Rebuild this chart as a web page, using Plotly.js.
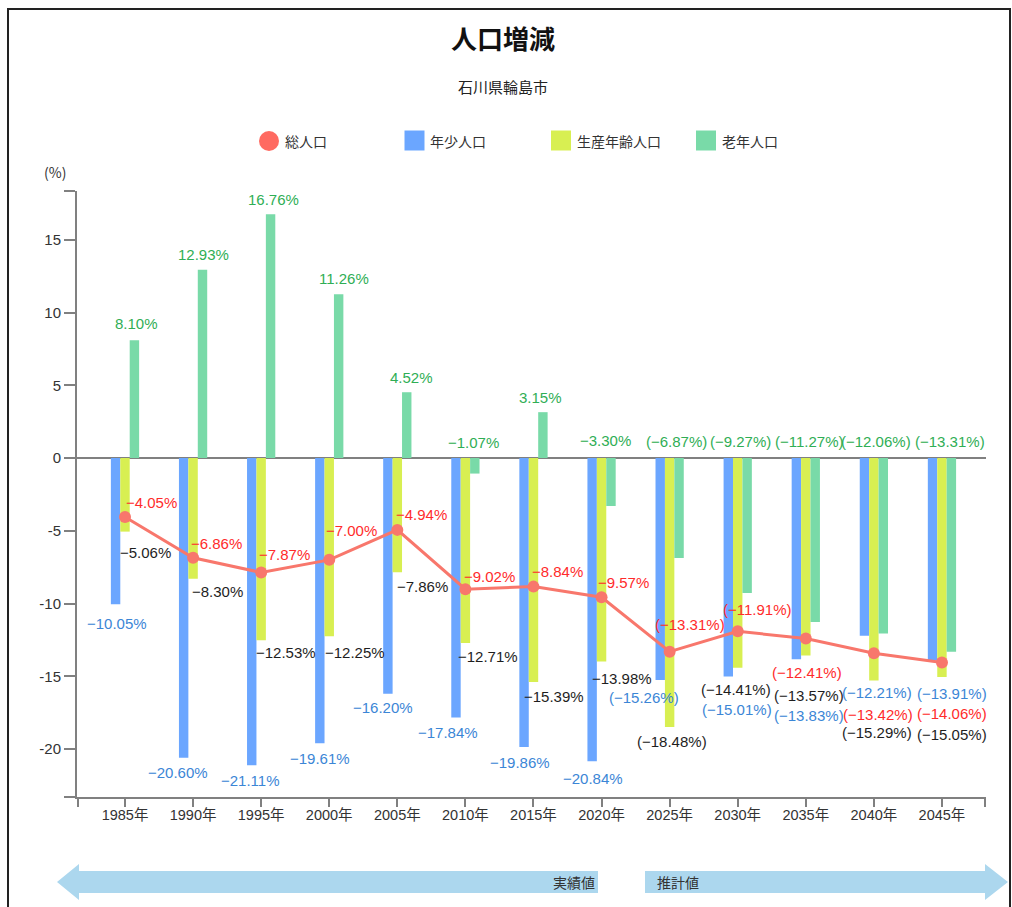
<!DOCTYPE html>
<html>
<head>
<meta charset="utf-8">
<script src="https://cdn.plot.ly/plotly-3.0.1.min.js"></script>
<style>
  html, body { margin: 0; padding: 0; background: #fff; }
  #chart { width: 1012px; height: 907px; }
</style>
</head>
<body>
<div id="chart"></div>
<script>
// ---------------- data ----------------
const years = ['1985年','1990年','1995年','2000年','2005年','2010年','2015年','2020年','2025年','2030年','2035年','2040年','2045年'];
const total   = [-4.05, -6.86, -7.87, -7.00, -4.94, -9.02, -8.84, -9.57, -13.31, -11.91, -12.41, -13.42, -14.06];
const young   = [-10.05, -20.60, -21.11, -19.61, -16.20, -17.84, -19.86, -20.84, -15.26, -15.01, -13.83, -12.21, -13.91];
const working = [-5.06, -8.30, -12.53, -12.25, -7.86, -12.71, -15.39, -13.98, -18.48, -14.41, -13.57, -15.29, -15.05];
const elderly = [8.10, 12.93, 16.76, 11.26, 4.52, -1.07, 3.15, -3.30, -6.87, -9.27, -11.27, -12.06, -13.31];
const firstEstimate = 8; // 2025年 onward are estimates
const seriesNames = ['総人口', '年少人口', '生産年齢人口', '老年人口'];
const yTickVals = [-20, -15, -10, -5, 0, 5, 10, 15];

// ---------------- styles / label placement (pixels: [dx, dy], dy down) ----------------
const C = {
  line: '#f8776c', legendDot: '#ff6a61',
  blue: '#6ba6ff', yellow: '#d8ef52', green: '#79daa8',
  redText: '#ff2b2b', blueText: '#3b86d6', blackText: '#1e1e1e', greenText: '#2fae55',
  axis: '#808080', arrow: '#acd7ee'
};
const totalOff   = [[26,-14],[23,-14],[23.5,-18.5],[22,-29],[24,-15],[24,-13],[24.5,-15],[22,-15],[20.5,-27],[19.5,-22],[1.5,34],[4.5,61],[10.5,51]];
const workingOff = [[20.5,21],[24,13],[24.5,12],[25.5,16],[25,14],[22.5,14],[20.5,15],[20,17],[2.5,15],[-1.5,22],[3.5,40],[3.5,52],[10.5,58]];
const youngOff   = [[-8,19],[-15.5,15],[-11,15],[-9.5,15],[-14.5,14],[-17,15],[-13,16],[-9,17],[-26,17],[-1,33],[3.5,56],[3.5,57],[10.5,33]];
const elderlyOff = [[11,-17],[10.5,-15],[12.5,-15],[15,-16],[14,-15],[8,-16],[7.5,-15],[4,-18],[7,-17],[3,-17],[3.5,-17],[2,-17],[8.5,-17]];

// plot area in page pixels
const PL = 77, PR = 986, PT = 191, PB = 797;
const W = 1012, H = 907;
const px = x => (x - PL) / (PR - PL);
const py = y => (PB - y) / (PB - PT);

const idx = years.map((_, i) => i);
const fmt = (v, i) => {
  const s = (v < 0 ? '\u2212' : '') + Math.abs(v).toFixed(2) + '%';
  return i >= firstEstimate ? '(' + s + ')' : s;
};

// ---------------- traces ----------------
const barBase = { type: 'bar', x: idx, hoverinfo: 'skip', showlegend: false };
const traces = [
  Object.assign({}, barBase, { name: seriesNames[1], y: young,   marker: { color: C.blue } }),
  Object.assign({}, barBase, { name: seriesNames[2], y: working, marker: { color: C.yellow } }),
  Object.assign({}, barBase, { name: seriesNames[3], y: elderly, marker: { color: C.green } }),
  { type: 'scatter', mode: 'lines+markers', name: seriesNames[0], x: idx, y: total,
    line: { color: C.line, width: 3 }, marker: { color: C.line, size: 12 },
    hoverinfo: 'skip', showlegend: false }
];

// ---------------- annotations ----------------
const labelFont = (color) => ({ family: 'Liberation Sans, Arial, "Noto Sans CJK JP", sans-serif', size: 15, color });
const annotations = [];
function addLabels(values, offs, color, anchorFn) {
  values.forEach((v, i) => {
    annotations.push({
      x: i, y: anchorFn ? anchorFn(v) : v, xref: 'x', yref: 'y',
      text: fmt(v, i), showarrow: false, xanchor: 'center', yanchor: 'middle',
      xshift: offs[i][0], yshift: -offs[i][1], font: labelFont(color)
    });
  });
}
addLabels(young, youngOff, C.blueText);
addLabels(working, workingOff, C.blackText);
addLabels(elderly, elderlyOff, C.greenText, v => Math.max(v, 0));
addLabels(total, totalOff, C.redText);

const cjk = '"Noto Sans CJK JP", sans-serif';
// subtitle
annotations.push({ xref: 'paper', yref: 'paper', x: px(503), y: py(87), text: '石川県輪島市', showarrow: false,
  xanchor: 'center', yanchor: 'middle', font: { family: cjk, size: 15, color: '#222' } });
// unit
annotations.push({ xref: 'paper', yref: 'paper', x: px(55), y: py(172), text: '(%)', showarrow: false,
  xanchor: 'center', yanchor: 'middle', font: { family: cjk, size: 14, color: '#333' } });

// manual legend
const legendItems = [
  { name: seriesNames[0], color: C.legendDot, shape: 'circle', cx: 269, tx: 283 },
  { name: seriesNames[1], color: C.blue,   shape: 'rect', cx: 414.5, tx: 428 },
  { name: seriesNames[2], color: C.yellow, shape: 'rect', cx: 561,   tx: 575 },
  { name: seriesNames[3], color: C.green,  shape: 'rect', cx: 706,   tx: 720 }
];
const shapes = [];
legendItems.forEach(it => {
  if (it.shape === 'circle') {
    shapes.push({ type: 'circle', xref: 'paper', yref: 'paper', x0: px(it.cx - 10), x1: px(it.cx + 10),
      y0: py(151), y1: py(131), fillcolor: it.color, line: { width: 0 } });
  } else {
    shapes.push({ type: 'rect', xref: 'paper', yref: 'paper', x0: px(it.cx - 10), x1: px(it.cx + 10),
      y0: py(150.5), y1: py(130.5), fillcolor: it.color, line: { width: 0 } });
  }
  annotations.push({ xref: 'paper', yref: 'paper', x: px(it.tx), y: py(141), text: it.name, showarrow: false,
    xanchor: 'left', yanchor: 'middle', font: { family: cjk, size: 14, color: '#333' } });
});

// arrows (実績値 / 推計値)
const P = (x, y) => px(x).toFixed(5) + ',' + py(y).toFixed(5);
shapes.push({ type: 'path', xref: 'paper', yref: 'paper', fillcolor: C.arrow, line: { width: 0 },
  path: 'M' + P(57, 882) + 'L' + P(79, 864) + 'L' + P(79, 871) + 'L' + P(598, 871) + 'L' + P(598, 893) +
        'L' + P(79, 893) + 'L' + P(79, 900) + 'Z' });
shapes.push({ type: 'path', xref: 'paper', yref: 'paper', fillcolor: C.arrow, line: { width: 0 },
  path: 'M' + P(645, 871) + 'L' + P(985, 871) + 'L' + P(985, 864) + 'L' + P(1008, 882) + 'L' + P(985, 900) +
        'L' + P(985, 893) + 'L' + P(645, 893) + 'Z' });
annotations.push({ xref: 'paper', yref: 'paper', x: px(597), y: py(882), text: '実績値', showarrow: false,
  xanchor: 'right', yanchor: 'middle', font: { family: cjk, size: 14, color: '#333' } });
annotations.push({ xref: 'paper', yref: 'paper', x: px(655), y: py(882), text: '推計値', showarrow: false,
  xanchor: 'left', yanchor: 'middle', font: { family: cjk, size: 14, color: '#333' } });

// outer frame
shapes.push({ type: 'rect', xref: 'paper', yref: 'paper', x0: px(8), x1: px(1010), y0: py(920), y1: py(9),
  line: { color: '#222', width: 2 }, fillcolor: 'rgba(0,0,0,0)' });

// ---------------- axes ----------------
const xMin = -(125 - PL) / 68.08, xMax = (PR - 125) / 68.08;
const yMax = (458 - PT) / 14.55, yMin = -(PB - 458) / 14.55;

const layout = {
  width: W, height: H,
  margin: { l: PL, r: W - PR, t: PT, b: H - PB, pad: 0 },
  paper_bgcolor: '#fff', plot_bgcolor: '#fff',
  font: { family: 'Liberation Sans, Arial, "Noto Sans CJK JP", sans-serif', color: '#333', size: 15 },
  title: { text: '人口増減', x: 503 / W, xanchor: 'center', y: 1 - 40 / H, yanchor: 'middle',
    font: { family: cjk, size: 26, weight: 'bold', color: '#111' } },
  barmode: 'group', bargap: 0.585, bargroupgap: 0,
  showlegend: false,
  xaxis: {
    range: [xMin, xMax], showgrid: false, zeroline: false,
    showline: true, linecolor: C.axis, linewidth: 2,
    ticks: 'outside', ticklen: 8, tickwidth: 2, tickcolor: C.axis,
    tickvals: [xMin + 0.01].concat(idx, [xMax - 0.01]),
    ticktext: [''].concat(years, ['']),
    tickfont: { family: 'Liberation Sans, Arial, "Noto Sans CJK JP", sans-serif', size: 14.5, color: '#333' },
    ticklabelstandoff: -4,
    fixedrange: true
  },
  yaxis: {
    range: [yMin, yMax], showgrid: false,
    zeroline: true, zerolinecolor: C.axis, zerolinewidth: 2,
    showline: true, linecolor: C.axis, linewidth: 2,
    ticks: 'outside', ticklen: 11, tickwidth: 2, tickcolor: C.axis,
    tickvals: [yMin + 0.02].concat(yTickVals, [yMax - 0.02]),
    ticktext: [''].concat(yTickVals.map(String), ['']),
    tickfont: { family: 'Liberation Sans, Arial, sans-serif', size: 15, color: '#333' },
    ticklabelstandoff: 0,
    fixedrange: true
  },
  annotations, shapes
};

Plotly.newPlot('chart', traces, layout, { displayModeBar: false, staticPlot: true });
</script>
</body>
</html>
